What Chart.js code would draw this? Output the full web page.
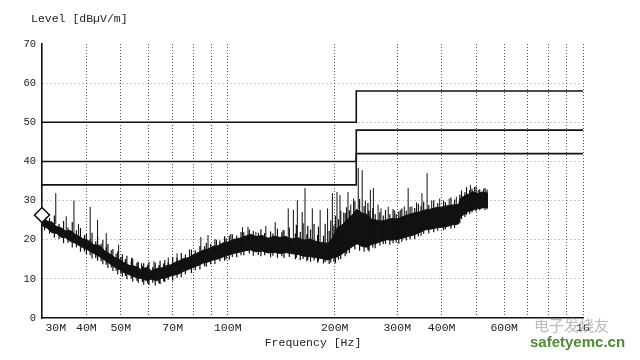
<!DOCTYPE html>
<html>
<head>
<meta charset="utf-8">
<script src="https://cdn.jsdelivr.net/npm/chart.js"></script>
<style>
  body { margin: 0; background: #fff; }
  #emi { display: block; }
</style>
</head>
<body>
<canvas id="emi" width="640" height="360"></canvas>
<script>
// x ticks (MHz) and their labels, blank = gridline only
var xTickValues = [30, 40, 50, 60, 70, 80, 90, 100, 200, 300, 400, 500, 600, 700, 800, 900, 1000]
var xTickLabels = ['    30M', '40M', '50M', '', '70M', '', '', '100M', '200M', '300M', '400M', '', '600M', '', '', '', '1G']

// limit lines (dBuV/m), step at 230M
var limitFreq = [30, 230, 230, 1000]
var limitA = [50, 50, 58, 58]
var limitB = [40, 40, 48, 48]
var limitC = [34, 34, 42, 42]

// measured noise band, upper and lower edge
var bandFreq = [30, 31, 32, 33, 34, 35, 36, 37, 38, 39,
	40.5, 42, 43.5, 45, 46.5, 48, 49.5, 51, 53, 55,
	57, 59, 61, 63, 65, 67, 69, 71, 73, 75,
	77.5, 80, 82.5, 85, 88, 91, 94, 97, 100, 104,
	108, 112, 116, 120, 125, 130, 135, 140, 146, 152,
	158, 164, 170, 177, 184, 191, 197, 203, 210, 217,
	224, 231, 238, 246, 254, 262, 271, 280, 290, 300,
	311, 322, 334, 346, 359, 372, 386, 400, 415, 430,
	446, 452, 460, 475, 490, 505, 520, 540]
var bandHigh = [26.0, 24.8, 24.5, 23.4, 23.0, 22.2, 22.4, 21.5, 21.0, 20.3,
	19.8, 18.7, 18.6, 17.2, 16.4, 15.5, 15.0, 14.2, 13.4, 13.2,
	12.4, 12.9, 12.1, 12.6, 12.8, 13.3, 13.6, 14.2, 14.6, 15.2,
	15.4, 16.2, 16.7, 17.3, 17.6, 18.3, 18.5, 19.2, 19.4, 20.1,
	20.4, 20.9, 21.4, 20.8, 21.1, 20.4, 20.9, 20.6, 20.8, 20.2,
	20.5, 19.9, 20.2, 19.6, 19.3, 19.1, 20.4, 23.0, 23.8, 25.2,
	26.3, 27.8, 26.9, 26.5, 25.3, 25.0, 24.8, 25.1, 25.4, 25.3,
	25.9, 26.4, 26.8, 27.1, 27.6, 27.8, 28.2, 28.3, 28.7, 28.9,
	29.0, 30.6, 31.0, 31.6, 32.3, 31.8, 32.2, 31.9]
var bandLow = [23.6, 23.0, 21.8, 21.6, 20.6, 20.5, 19.6, 19.2, 18.6, 18.0,
	17.3, 16.5, 15.7, 14.8, 13.9, 13.0, 12.4, 11.6, 11.0, 10.4,
	10.1, 9.6, 9.9, 9.5, 10.1, 10.3, 10.7, 11.0, 11.3, 11.9,
	12.4, 12.9, 13.4, 14.0, 14.3, 14.8, 15.1, 15.6, 16.0, 16.5,
	16.8, 17.2, 17.4, 16.9, 17.1, 16.6, 16.8, 16.5, 16.7, 16.4,
	16.2, 15.8, 15.7, 15.4, 15.2, 14.8, 15.3, 15.6, 16.4, 17.3,
	18.2, 19.0, 18.3, 18.1, 18.8, 19.1, 19.6, 20.0, 19.9, 20.1,
	20.4, 20.8, 21.2, 21.8, 22.5, 22.7, 23.0, 23.2, 23.4, 23.8,
	24.0, 26.0, 26.3, 27.2, 27.6, 27.9, 28.1, 28.3]

// short noise strokes along the band edges
var noiseFreq = [30.5, 31.5, 32.5, 33.5, 34.5, 35.5, 36.5, 37.5, 38.5, 39.5,
	40, 41, 41.5, 42.5, 43, 44, 44.5, 45.5, 46, 47,
	47.5, 48.5, 49, 50, 50.5, 51.5, 52, 53.5, 54, 55.5,
	56, 57.5, 58, 59.5, 60, 61.5, 62.5, 64, 64.5, 66,
	66.5, 68, 70, 72, 74, 76, 79, 81, 83.5, 86,
	87, 89.5, 92, 95, 98, 99, 101, 103, 106, 109,
	111, 115, 118, 122, 124, 127, 132, 134, 138, 142,
	144, 149, 155, 156, 160, 163, 167, 168, 171, 175,
	179, 180, 186, 188, 193, 195, 199, 201, 205, 208,
	214, 216, 220, 228, 235, 242, 248, 250, 256, 260,
	268, 274, 278, 286, 292, 298, 303, 309, 318, 326,
	336, 344, 350, 356, 368, 380, 390, 405, 410, 425,
	435, 450, 455, 465, 470, 480, 487, 500, 512, 530,
	537]
var noiseTop = [27.0, 25.5, 26.2, 24.0, 24.8, 23.1, 24.5, 22.4, 23.0, 21.2,
	21.5, 20.1, 21.8, 19.6, 20.8, 19.0, 19.9, 18.2, 18.9, 17.3,
	17.6, 16.4, 17.0, 15.6, 16.3, 15.1, 15.9, 14.5, 15.2, 14.1,
	14.4, 13.3, 14.0, 13.6, 14.3, 13.0, 14.1, 13.5, 14.6, 13.9,
	14.8, 14.4, 15.6, 15.3, 16.6, 16.2, 17.5, 17.3, 18.4, 18.3,
	19.2, 18.9, 20.1, 19.8, 20.9, 20.3, 21.0, 21.4, 21.1, 22.0,
	21.9, 22.6, 22.2, 21.8, 22.7, 21.7, 22.1, 21.6, 22.8, 21.9,
	22.4, 23.1, 21.6, 23.8, 22.0, 24.2, 21.4, 23.5, 22.6, 24.0,
	21.2, 23.4, 21.0, 24.1, 22.3, 25.0, 23.6, 26.1, 25.2, 27.4,
	26.8, 28.3, 27.5, 29.8, 30.4, 28.6, 29.4, 27.4, 28.1, 26.6,
	27.0, 26.2, 27.6, 26.5, 27.8, 26.6, 27.2, 28.0, 27.4, 28.4,
	28.1, 29.2, 28.6, 29.7, 28.9, 30.1, 29.4, 30.0, 29.6, 30.8,
	30.3, 31.5, 32.6, 32.1, 33.4, 32.7, 33.1, 33.6, 32.9, 33.2,
	32.8]
var noiseBottom = [22.4, 21.6, 20.5, 20.2, 19.1, 19.2, 18.0, 18.1, 16.9, 17.0,
	16.3, 16.0, 15.2, 15.3, 14.6, 14.5, 13.7, 13.6, 12.8, 12.9,
	12.0, 12.1, 11.2, 11.3, 10.6, 10.7, 9.9, 10.0, 9.3, 9.5,
	9.0, 9.2, 8.5, 8.8, 8.4, 9.0, 8.3, 8.9, 8.6, 9.4,
	9.2, 9.8, 9.6, 10.3, 10.4, 11.2, 11.5, 12.2, 12.4, 13.2,
	13.1, 13.7, 13.8, 14.5, 14.6, 15.0, 14.9, 15.6, 15.5, 16.0,
	16.0, 16.5, 15.9, 16.1, 15.8, 16.0, 15.5, 15.9, 15.4, 15.8,
	15.3, 15.6, 15.0, 15.4, 14.8, 15.1, 14.5, 14.9, 14.4, 14.7,
	14.1, 14.5, 13.9, 14.3, 13.8, 14.2, 14.4, 14.0, 14.9, 15.1,
	15.8, 16.4, 16.6, 17.5, 17.2, 16.9, 17.4, 17.0, 18.0, 17.8,
	18.5, 18.9, 19.0, 18.7, 19.1, 19.3, 19.0, 19.5, 19.8, 20.1,
	20.2, 20.8, 21.0, 21.5, 21.6, 21.9, 22.3, 22.4, 22.7, 22.8,
	23.0, 24.2, 25.3, 25.8, 26.4, 26.6, 27.0, 27.2, 27.5, 27.6,
	27.8]

// single spikes sticking out of the band
var spikeFreq = [32.8, 35.1, 36.9, 38, 41, 43, 45.5, 49.3, 53.6, 57.2,
	62, 68, 72, 78, 84, 88, 93, 102, 110, 114,
	120, 128, 136, 143, 148, 153, 157, 162, 165, 173,
	182, 191, 197, 203, 207, 212, 218, 222, 226, 233,
	239, 244, 252, 257, 265, 270, 283, 295, 306, 314,
	322, 330, 340, 352, 364, 375, 395, 420, 440, 482,
	495, 507, 525]
var spikeTop = [31.9, 26, 30, 24, 28.4, 25, 21.7, 18.7, 15.4, 14,
	14.5, 15.5, 16.5, 17.5, 20.7, 21.2, 20, 21.5, 23.2, 23.3,
	22, 23.5, 24.5, 22.5, 28, 27.6, 30.1, 27.1, 33.2, 28,
	27.6, 28, 31.9, 32.2, 31.4, 27, 32.2, 29, 30.5, 38.3,
	37.8, 30, 32.7, 33.2, 29, 28, 28.4, 27.5, 27.6, 28.5,
	33.2, 28.5, 29.5, 31.9, 37, 30, 30.5, 30.5, 31, 34,
	33.5, 32.7, 33]
var spikeBase = [24, 22, 21.5, 21, 19, 18.5, 17, 15, 13.4, 12.5,
	12.1, 13, 14.2, 15.4, 17.2, 17.5, 18.3, 20, 20.5, 21,
	20.8, 20.8, 20.9, 20.6, 20.8, 20.2, 20.5, 20.3, 19.9, 20,
	19.5, 19.1, 20.4, 23, 23.4, 23.8, 25.2, 25.8, 26.3, 27.8,
	27, 26.5, 25.5, 25.3, 25, 24.9, 25, 25.4, 25.5, 25.9,
	26.3, 26.6, 26.9, 27.2, 27.6, 27.8, 28.2, 28.8, 29, 31.5,
	32.3, 31.8, 32]

// diamond marker
var markerFreq = [30]
var markerLevel = [26.3]

var monoFont = '"Liberation Mono", "DejaVu Sans Mono", monospace'

function toPoints(xs, ys){
	return xs.map(function(x, i){ return {x: x, y: ys[i]} })
}

// vertical strokes, broken apart with null points
function strokes(xs, lows, highs){
	var pts = []
	for(var i = 0; i < xs.length; i++){
		pts.push({x: xs[i], y: lows[i]})
		pts.push({x: xs[i], y: highs[i]})
		pts.push({x: xs[i], y: null})
	}
	return pts
}

function limitSet(vals){
	return {
		data: toPoints(limitFreq, vals),
		showLine: true,
		borderColor: '#111',
		borderWidth: 1.6,
		pointRadius: 0,
		order: 1
	}
}

// titles and watermark text
var textPlugin = {
	id: 'texts',
	afterDraw: function(chart){
		var ctx = chart.ctx
		ctx.save()
		ctx.fillStyle = '#222'
		ctx.font = '11.5px ' + monoFont
		ctx.textBaseline = 'middle'
		ctx.textAlign = 'left'
		ctx.fillText('Level [dB\u00b5V/m]', 31, 19)
		ctx.textAlign = 'center'
		ctx.fillText('Frequency [Hz]', 313, 343)

		ctx.textAlign = 'left'
		ctx.font = '15px "Noto Sans CJK SC"'
		ctx.fillStyle = 'rgba(170,170,170,0.8)'
		ctx.fillText('\u7535\u5b50\u53d1\u70e7\u53cb', 534, 325)
		ctx.font = 'bold 15px "Liberation Sans", Arial, sans-serif'
		ctx.fillStyle = '#4f8a35'
		ctx.fillText('safetyemc.cn', 530, 343)
		ctx.restore()
	}
}

const emiChart = new Chart(document.getElementById('emi').getContext('2d'), {
	type: 'scatter',
	data: {
		datasets: [
			{
				data: toPoints(markerFreq, markerLevel),
				pointStyle: 'rectRot',
				pointRadius: 7.5,
				pointBackgroundColor: '#fff',
				pointBorderColor: '#111',
				pointBorderWidth: 1.6,
				clip: false,
				order: 0
			},
			limitSet(limitA),
			limitSet(limitB),
			limitSet(limitC),
			{
				data: strokes(spikeFreq, spikeBase, spikeTop),
				showLine: true,
				spanGaps: false,
				borderColor: '#111',
				borderWidth: 1,
				pointRadius: 0,
				order: 2
			},
			{
				data: strokes(noiseFreq, noiseBottom, noiseTop),
				showLine: true,
				spanGaps: false,
				borderColor: '#111',
				borderWidth: 1.2,
				pointRadius: 0,
				order: 2
			},
			{
				data: toPoints(bandFreq, bandHigh),
				showLine: true,
				fill: '+1',
				backgroundColor: '#111',
				borderColor: '#111',
				borderWidth: 1,
				pointRadius: 0,
				order: 3
			},
			{
				data: toPoints(bandFreq, bandLow),
				showLine: true,
				borderColor: '#111',
				borderWidth: 1,
				pointRadius: 0,
				order: 3
			}
		]
	},
	options: {
		responsive: false,
		animation: false,
		events: [],
		layout: {
			padding: {top: 44, right: 57, bottom: 0, left: 0}
		},
		plugins: {
			legend: { display: false },
			tooltip: { enabled: false }
		},
		scales: {
			x: {
				type: 'logarithmic',
				min: 30,
				max: 1000,
				afterBuildTicks: function(scale){
					scale.ticks = xTickValues.map(function(v){ return {value: v} })
				},
				afterFit: function(scale){ scale.height = 42 },
				ticks: {
					autoSkip: false,
					maxRotation: 0,
					padding: 3,
					color: '#222',
					font: { family: monoFont, size: 11.5 },
					callback: function(value){
						var idx = xTickValues.indexOf(value)
						return idx >= 0 ? xTickLabels[idx] : ''
					}
				},
				grid: {
					drawTicks: false,
					color: function(c){
						return c.tick && c.tick.value === 30 ? 'rgba(0,0,0,0)' : '#555'
					},
					lineWidth: 1
				},
				border: { display: true, color: '#111', width: 1.6, dash: [1, 2] }
			},
			y: {
				min: 0,
				max: 70,
				afterFit: function(scale){ scale.width = 42 },
				ticks: {
					stepSize: 10,
					padding: 6,
					color: '#222',
					font: { family: monoFont, size: 10.5 }
				},
				grid: {
					drawTicks: false,
					color: function(c){
						var v = c.tick ? c.tick.value : 0
						return (v === 0 || v === 70) ? 'rgba(0,0,0,0)' : '#9a9a9a'
					},
					lineWidth: 1
				},
				border: { display: true, color: '#111', width: 1.6, dash: [1, 3] }
			}
		}
	},
	plugins: [textPlugin]
})
</script>
</body>
</html>
